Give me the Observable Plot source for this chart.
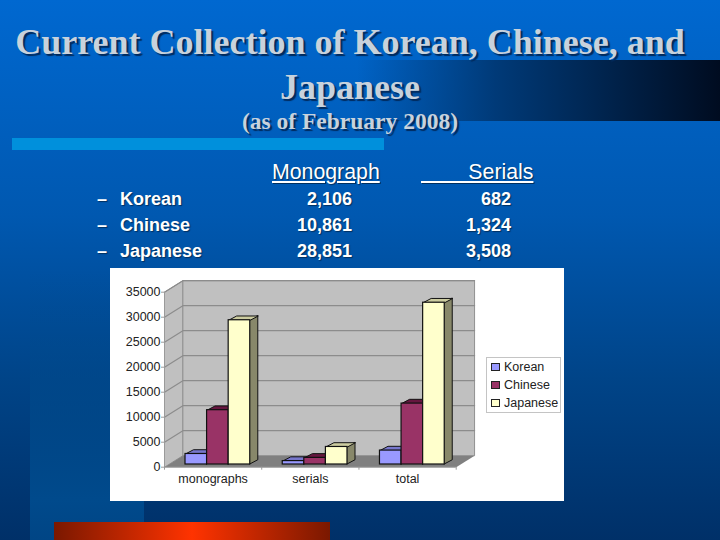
<!DOCTYPE html>
<html><head><meta charset="utf-8">
<script src="https://cdn.jsdelivr.net/npm/d3@7"></script>
<script src="https://cdn.jsdelivr.net/npm/@observablehq/plot@0.6"></script>
<style>
html,body{margin:0;padding:0;width:720px;height:540px;overflow:hidden}
#slide{position:absolute;left:0;top:0;width:720px;height:540px;overflow:hidden;
 background:linear-gradient(180deg,#0068d0 0%,#0058b0 40%,#004488 70%,#003068 100%);}
.abs{position:absolute}
#botleft{left:30px;top:270px;width:114px;height:270px;background:linear-gradient(180deg,rgba(0,82,160,0),#004a8c 85%,#004585)}
#band{left:60px;top:60px;width:660px;height:61px;background:linear-gradient(90deg,rgba(0,90,190,0) 0%,rgba(0,90,190,0) 45%,#003a78 66%,#001028 97%,#000c20 100%)}
#bar{left:12px;top:138px;width:372px;height:12px;background:#0090dc}
#red{left:54px;top:522px;width:276px;height:18px;background:linear-gradient(90deg,#7a1800,#ff3300 50%,#7a1800)}
.ttl{position:absolute;left:0;width:700px;text-align:center;font-family:"Liberation Serif",serif;font-weight:bold;color:#c8d2dc;text-shadow:2px 2px 1px #002a5c;white-space:nowrap}
.tx{position:absolute;font-family:"Liberation Sans",sans-serif;font-size:18px;font-weight:bold;color:#fff;white-space:pre;text-shadow:1px 1px 1px #003060;line-height:20px}
.u{text-decoration:underline;font-weight:normal;font-size:21.3px}
#chart{position:absolute;left:110px;top:268px;width:454px;height:233px;background:#fff}
#legend{position:absolute;left:486px;top:357px;width:73px;height:54px;border:1px solid #c4c4c4;background:#fff;font-family:"Liberation Sans",sans-serif;font-size:12.5px;color:#222}
#legend div{position:absolute;left:4px;height:14px;line-height:14px;white-space:nowrap}
#legend i{display:inline-block;width:7px;height:6px;border:1px solid #222;margin-right:4px}
</style></head><body>
<div id="slide">
<div class="abs" id="botleft"></div>
<div class="abs" id="band"></div><div class="abs" id="bar"></div><div class="abs" id="red"></div>
<div class="ttl" style="top:22px;font-size:36px;line-height:40px">Current Collection of Korean, Chinese, and</div>
<div class="ttl" style="top:67px;font-size:36px;line-height:40px">Japanese</div>
<div class="ttl" style="top:107px;font-size:23.5px;line-height:28px">(as of February 2008)</div>
<div id="table"></div>
<div id="chart"></div>
<div id="legend"></div>
</div>
<script>
const languages = ["Korean", "Chinese", "Japanese"];
const categories = ["monographs", "serials", "total"];
const monographs = [2106, 10861, 28851];
const serials = [682, 1324, 3508];
const totals = [2788, 12185, 32359];
const frontColors = ["#9999ff", "#993366", "#ffffcc"];
const topColors = ["#7777cc", "#66163f", "#cccca0"];
const sideColors = ["#666699", "#5c1f3d", "#88886a"];
const yTicks = [0, 5000, 10000, 15000, 20000, 25000, 30000, 35000];
const tableMono = ["2,106", "10,861", "28,851"];
const tableSer = ["682", "1,324", "3,508"];

// HTML table above the chart
const tbl = document.getElementById("table");
const addTx = (s, x, y, cls) => { const d = document.createElement("div"); d.className = "tx " + (cls||""); d.style.left = x + "px"; d.style.top = y + "px"; d.textContent = s; tbl.appendChild(d); };
addTx("Monograph", 272, 162, "u");
addTx("        Serials", 421, 162, "u");
languages.forEach((l, i) => {
  const y = 189 + i * 26;
  addTx("–", 97, y); addTx(l, 120, y);
  const a = document.createElement("div");
  a.className = "tx"; a.style.cssText = `left:272px;width:80px;text-align:right;top:${y}px`; a.textContent = tableMono[i]; tbl.appendChild(a);
  const b = document.createElement("div");
  b.className = "tx"; b.style.cssText = `left:441px;width:70px;text-align:right;top:${y}px`; b.textContent = tableSer[i]; tbl.appendChild(b);
});

// 3-D geometry in data units
const series = [monographs, serials, totals];
const barW = 0.222, start = 0.216, depX = 0.0825, depY = 850, base = 540;
const wallX = 0.189, wallY = 2300, yMax = 35000;
const bars = series.flatMap((vals, c) => vals.map((v, s) => ({
  c, s, v, x1: c + start + s * barW, x2: c + start + (s + 1) * barW, top: v + base, base
})));
const poly = (pts) => pts.map(([x, y]) => ({x, y}));

const marks = [];
// walls and floor
marks.push(Plot.line(poly([[0,0],[wallX,wallY],[wallX,yMax+wallY],[0,yMax],[0,0]]), {x:"x",y:"y",fill:"#c0c0c0",stroke:"#909090",strokeWidth:1}));
marks.push(Plot.line(poly([[wallX,wallY],[3+wallX,wallY],[3+wallX,yMax+wallY],[wallX,yMax+wallY],[wallX,wallY]]), {x:"x",y:"y",fill:"#c0c0c0",stroke:"#909090",strokeWidth:1}));
marks.push(Plot.line(poly([[0,0],[3,0],[3+wallX,wallY],[wallX,wallY]]), {x:"x",y:"y",fill:"#808080"}));
// gridlines
yTicks.slice(1).forEach(v => {
  marks.push(Plot.line(poly([[0,v],[wallX,v+wallY],[3+wallX,v+wallY]]), {x:"x",y:"y",stroke:"#8c8c8c",strokeWidth:1.2}));
});
// axes lines and ticks
marks.push(Plot.ruleX([0], {y1:0, y2:yMax, stroke:"#9a9a9a"}));
marks.push(Plot.ruleY([0], {x1:0, x2:3, stroke:"#9a9a9a"}));
marks.push(Plot.axisY({ticks: yTicks, tickSize:3, tickPadding:1, tickFormat:d=>String(d), label:null, fontSize:12.5, fill:"#222", stroke:"#9a9a9a", fontFamily:"Liberation Sans"}));
marks.push(Plot.axisX({ticks:[0,1,2,3], tickSize:3, tickFormat:()=>"", label:null, stroke:"#9a9a9a"}));
marks.push(Plot.text(categories, {x:(d,i)=>i+0.5, y:0, text:d=>d, dy:12, fontSize:12.5, fill:"#222", fontFamily:"Liberation Sans"}));
// bars
bars.forEach(b => {
  marks.push(Plot.areaY(poly([[b.x2,b.base],[b.x2+depX,b.base+depY]]).map((p,i)=>({x:p.x, y1:p.y, y2:i?b.top+depY:b.top})), {x:"x",y1:"y1",y2:"y2",fill:sideColors[b.s],stroke:"#111",strokeWidth:1}));
  marks.push(Plot.line(poly([[b.x1,b.top],[b.x2,b.top],[b.x2+depX,b.top+depY],[b.x1+depX,b.top+depY],[b.x1,b.top]]), {x:"x",y:"y",fill:topColors[b.s],stroke:"#111",strokeWidth:1}));
  marks.push(Plot.rectY([b], {x1:"x1",x2:"x2",y1:"base",y2:"top",fill:frontColors[b.s],stroke:"#111",strokeWidth:1.2}));
});

const plot = Plot.plot({
  width:454, height:233, marginLeft:54, marginRight:108.3, marginTop:23.7, marginBottom:34.3,
  x:{type:"linear",domain:[0,3],axis:null},
  y:{type:"linear",domain:[0,yMax],axis:null},
  style:{background:"transparent",overflow:"visible"},
  marks
});
document.getElementById("chart").appendChild(plot);

const lg = document.getElementById("legend");
languages.forEach((l,i)=>{
  const d=document.createElement("div"); d.style.top=(2+i*18)+"px";
  const sw=document.createElement("i"); sw.style.background=frontColors[i]; d.appendChild(sw);
  d.appendChild(document.createTextNode(l)); lg.appendChild(d);
});
</script></body></html>
